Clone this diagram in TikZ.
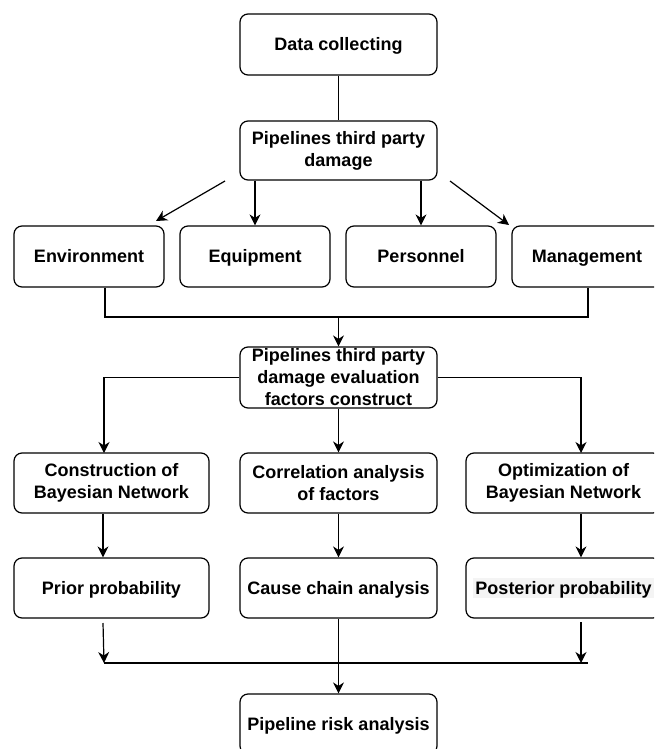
\documentclass[tikz,border=0pt]{standalone}
\usepackage{fontspec}
\setmainfont{Liberation Sans}
\usetikzlibrary{arrows.meta,calc}
\definecolor{postbg}{RGB}{244,244,244}
\begin{document}
\begin{tikzpicture}[x=1pt,y=1pt,
  box/.style={draw=black, line width=1.2pt, rounded corners=8pt, fill=white, inner sep=0pt, align=center,
    font=\bfseries\fontsize{18}{22}\selectfont},
  one/.style={text height=14pt, text depth=2pt},
  wide/.style={box, minimum width=197pt, minimum height=60pt},
  narrow/.style={box, one, minimum width=150pt, minimum height=61pt},
  mid/.style={box, minimum width=195pt, minimum height=60pt},
  conn/.style={draw=black, line width=1.2pt},
  arr/.style={conn, -{Stealth[length=11pt,width=11pt,inset=3.5pt]}}]
\useasboundingbox (0,0) rectangle (654,-749);
\clip (0,0) rectangle (654,-749);
\fill[white] (0,0) rectangle (654,-749);

% nodes
\node[wide, one, minimum height=61pt] (dc) at (338.5,-44.5) {Data collecting};
\node[wide, minimum height=59pt] (ptd) at (338.5,-150.5) {Pipelines third party\\damage};
\node[narrow] (env) at (89,-256.5) {Environment};
\node[narrow] (equ) at (255,-256.5) {Equipment};
\node[narrow] (per) at (421,-256.5) {Personnel};
\node[narrow] (mgt) at (587,-256.5) {Management};
\node[wide, minimum height=61pt] (eval) at (338.5,-377.5) {Pipelines third party\\damage evaluation\\factors construct};
\node[mid] (con) at (111.5,-483) {Construction of\\Bayesian Network};
\node[wide] (cor) at (338.5,-483) {Correlation analysis\\of factors};
\node[mid] (opt) at (563.5,-483) {Optimization of\\Bayesian Network};
\node[mid, one] (pri) at (111.5,-588) {Prior probability};
\node[wide, one] (cau) at (338.5,-588) {Cause chain analysis};
\node[mid] (pos) at (563.5,-588) {};
\node[fill=postbg, inner sep=2pt, one, font=\bfseries\fontsize{18}{22}\selectfont] (post) at (pos) {Posterior probability};
\node[wide, one] (risk) at (338.5,-724) {Pipeline risk analysis};

% free-end coordinates
\coordinate (dl1) at (225,-181);
\coordinate (dl2) at (156,-221);
\coordinate (dr1) at (450,-181);
\coordinate (dr2) at (509,-225);
\coordinate (jl) at (105,-317);
\coordinate (jr) at (588,-317);
\coordinate (cl) at (104,-453);
\coordinate (cr) at (581,-453);
\coordinate (pl1) at (103,-623);
\coordinate (pl2) at (104,-663);
\coordinate (pr1) at (581,-622);
\coordinate (pr2) at (581,-663);
\coordinate (hr) at (588,-663);

% connectors
\draw[conn] (dc.south) -- (ptd.north);
\draw[arr] (dl1) -- (dl2);
\draw[arr] (ptd.south -| equ.north) -- (equ.north);
\draw[arr] (ptd.south -| per.north) -- (per.north);
\draw[arr] (dr1) -- (dr2);

\draw[conn] (env.south -| jl) -- (jl) -- (jr) -- (mgt.south -| jr);
\draw[arr] (jl -| eval.north) -- (eval.north);

\draw[arr] (eval.west) -| (cl);
\draw[arr] (eval.south) -- (cor.north);
\draw[arr] (eval.east) -| (cr);

\draw[arr] (con.south -| 103,0) -- (pri.north -| 103,0);
\draw[arr] (cor.south) -- (cau.north);
\draw[arr] (opt.south -| cr) -- (pos.north -| cr);

\draw[arr] (pl1) -- (pl2);
\draw[arr] (pr1) -- (pr2);
\draw[conn] (pl2) -- (hr);
\draw[arr] (cau.south) -- (risk.north);
\end{tikzpicture}
\end{document}
